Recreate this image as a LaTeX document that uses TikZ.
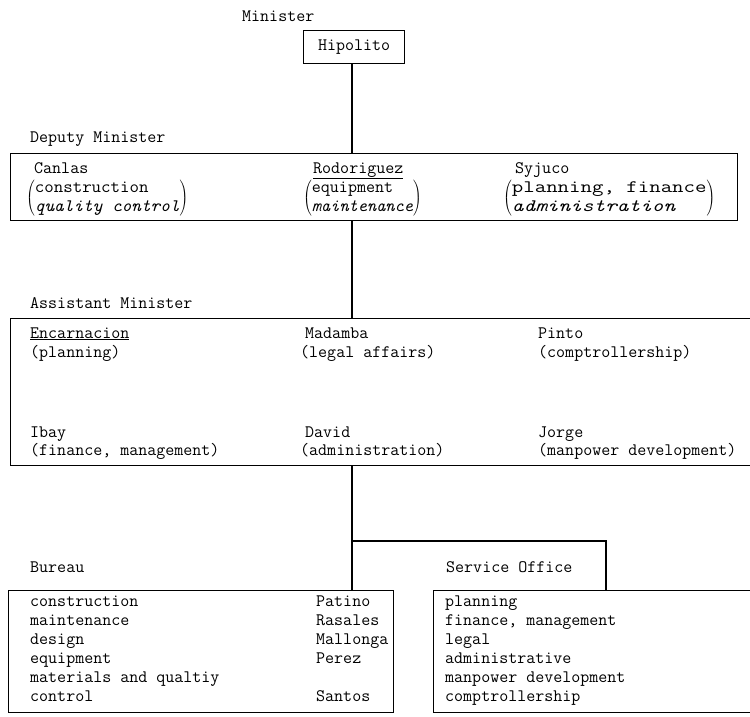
\documentclass[tikz,border=0pt]{standalone}
\usepackage{fontspec}
\newcommand\fs{\fontsize{17.5}{19}\selectfont}
\newcommand\pgroup[3]{$\left(\vcenter{\hbox{\ttfamily\fs\begin{tabular}{@{}l@{}}\scalebox{#1}[1]{#2}\\\scalebox{#1}[1]{\itshape #3}\end{tabular}}}\right)$}
\tikzset{
  lbl/.style={anchor=base west, inner sep=0pt, font=\ttfamily\fs},
  grp/.style={anchor=west, inner sep=0pt, font=\ttfamily\fs},
  frame/.style={draw, line width=1.1pt, inner sep=0pt, anchor=north west},
  ln/.style={line width=1.1pt},
}
\begin{document}
\begin{tikzpicture}[x=1pt,y=-1pt]
\useasboundingbox (0,0) rectangle (750,717);
\clip (0,0) rectangle (750,717);
\fill[white] (0,0) rectangle (750,717);

% Minister
\node[lbl] (minl) at (242,22) {Minister};
\node[frame, minimum width=101pt, minimum height=33pt, font=\ttfamily\fs] (hip) at (303,30) {Hipolito};

% Deputy Minister
\node[lbl] (depl) at (30,142) {Deputy Minister};
\node[frame, minimum width=727pt, minimum height=67pt] (dep) at (10,153) {};
\node[lbl] (canlas) at (34,173) {Canlas};
\node[grp] (cang) at (26,198) {\pgroup{1.05}{construction}{quality control}};
\node[lbl] (rod) at (313,173) {\underline{Rodoriguez}};
\node[grp] (rodg) at (303,198) {\pgroup{1}{equipment}{maintenance}};
\node[lbl] (syj) at (515,173) {Syjuco};
\node[grp] (syjg) at (503,198) {\pgroup{1.27}{planning, finance}{administration}};

% Assistant Minister
\node[lbl] (asl) at (30,308) {Assistant Minister};
\node[frame, minimum width=760pt, minimum height=147pt] (asst) at (10,318) {};
\node[lbl] (enc) at (30,338) {\underline{Encarnacion}};
\node[lbl] (encr) at (30,357) {(planning)};
\node[lbl] (mad) at (305,338) {Madamba};
\node[lbl] (madr) at (300,357) {(legal affairs)};
\node[lbl] (pin) at (538,338) {Pinto};
\node[lbl] (pinr) at (538,357) {(comptrollership)};
\node[lbl] (iba) at (30,437) {Ibay};
\node[lbl] (ibar) at (30,455) {(finance, management)};
\node[lbl] (dav) at (305,437) {David};
\node[lbl] (davr) at (300,455) {(administration)};
\node[lbl] (jor) at (538,437) {Jorge};
\node[lbl] (jorr) at (538,455) {(manpower development)};

% Bureau
\node[lbl] (burl) at (30,572) {Bureau};
\node[frame, minimum width=385pt, minimum height=122pt] (bur) at (8,590) {};
\node[lbl] (b1) at (30,606) {construction};
\node[lbl] (b2) at (30,625) {maintenance};
\node[lbl] (b3) at (30,644) {design};
\node[lbl] (b4) at (30,663) {equipment};
\node[lbl] (b5) at (30,682) {materials and qualtiy};
\node[lbl] (b6) at (30,701) {control};
\node[lbl] (n1) at (316,606) {Patino};
\node[lbl] (n2) at (316,625) {Rasales};
\node[lbl] (n3) at (316,644) {Mallonga};
\node[lbl] (n4) at (316,663) {Perez};
\node[lbl] (n6) at (316,701) {Santos};

% Service Office
\node[lbl] (srvl) at (446,572) {Service Office};
\node[frame, minimum width=330pt, minimum height=122pt] (srv) at (433,590) {};
\node[lbl] (s1) at (445,606) {planning};
\node[lbl] (s2) at (445,625) {finance, management};
\node[lbl] (s3) at (445,644) {legal};
\node[lbl] (s4) at (445,663) {administrative};
\node[lbl] (s5) at (445,682) {manpower development};
\node[lbl] (s6) at (445,701) {comptrollership};

% connectors
\coordinate (tr) at (352,0);
\coordinate (br) at (352,541);
\coordinate (sv) at (606,590);
\draw[ln] (hip.south -| tr) -- (dep.north -| tr);
\draw[ln] (dep.south -| tr) -- (asst.north -| tr);
\draw[ln] (asst.south -| tr) -- (bur.north -| tr);
\draw[ln] (br) -| (sv);
\end{tikzpicture}
\end{document}
